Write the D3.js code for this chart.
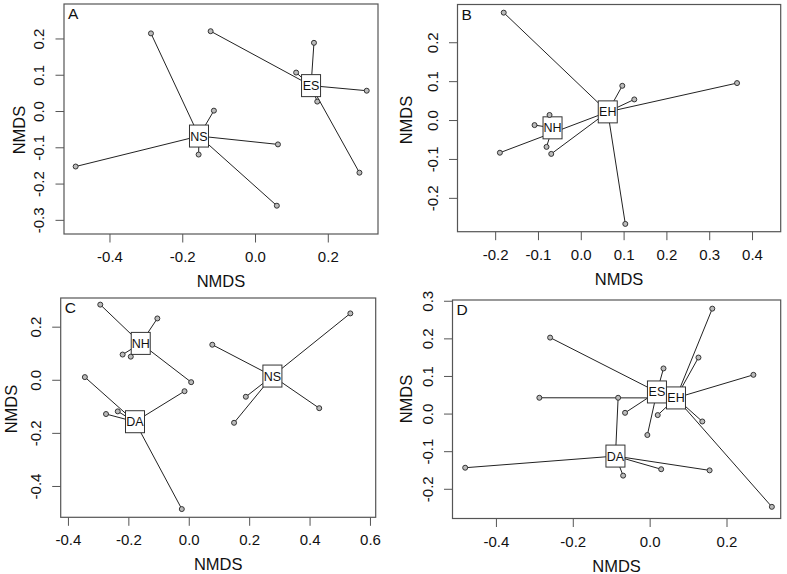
<!DOCTYPE html>
<html>
<head>
<meta charset="utf-8">
<script src="https://cdn.jsdelivr.net/npm/d3@7"></script>
<style>
  body { margin: 0; background: #fff; }
  svg text { font-family: "Liberation Sans", Arial, sans-serif; fill: #111; }
</style>
</head>
<body>
<svg id="chart" width="787" height="574"></svg>
<script>
// ---- data (NMDS scores) ----
// each point: [group, NMDS1, NMDS2]
const pointsA = [
  ["NS", -0.286, 0.214], ["NS", -0.113, 0.001], ["NS", 0.063, -0.092],
  ["NS", -0.155, -0.120], ["NS", 0.060, -0.261], ["NS", -0.493, -0.153],
  ["ES", -0.122, 0.220], ["ES", 0.162, 0.188], ["ES", 0.113, 0.106],
  ["ES", 0.307, 0.056], ["ES", 0.171, 0.026], ["ES", 0.287, -0.170]
];
const centroidsA = [["NS", -0.154, -0.069], ["ES", 0.154, 0.070]];

const pointsB = [
  ["EH", -0.180, 0.276], ["EH", 0.097, 0.088], ["EH", 0.125, 0.053],
  ["EH", 0.365, 0.095], ["EH", 0.104, -0.267], ["EH", -0.069, -0.087],
  ["EH", -0.189, -0.084],
  ["NH", -0.073, 0.013], ["NH", -0.108, -0.013], ["NH", -0.080, -0.069]
];
const centroidsB = [["EH", 0.063, 0.021], ["NH", -0.066, -0.020]];

const pointsC = [
  ["NH", -0.293, 0.283], ["NH", -0.104, 0.231], ["NH", -0.219, 0.095],
  ["NH", -0.192, 0.087], ["NH", 0.008, -0.009],
  ["DA", -0.344, 0.010], ["DA", -0.014, -0.043], ["DA", -0.274, -0.129],
  ["DA", -0.235, -0.119], ["DA", -0.023, -0.487],
  ["NS", 0.078, 0.132], ["NS", 0.535, 0.250], ["NS", 0.189, -0.064],
  ["NS", 0.150, -0.162], ["NS", 0.432, -0.107]
];
const centroidsC = [["NH", -0.159, 0.137], ["DA", -0.178, -0.158], ["NS", 0.277, 0.014]];

const pointsD = [
  ["ES", -0.259, 0.202], ["ES", 0.036, 0.120], ["ES", -0.064, 0.002], ["ES", -0.006, -0.057],
  ["EH", -0.287, 0.042], ["EH", 0.163, 0.279], ["EH", 0.127, 0.149], ["EH", 0.270, 0.103],
  ["EH", 0.137, -0.021], ["EH", 0.318, -0.248], ["EH", 0.021, -0.004],
  ["DA", -0.082, 0.042], ["DA", -0.480, -0.144], ["DA", -0.069, -0.165],
  ["DA", 0.030, -0.148], ["DA", 0.156, -0.151]
];
const centroidsD = [["ES", 0.019, 0.0575], ["EH", 0.0685, 0.0416], ["DA", -0.089, -0.113]];

// axis limits and ticks
const xDomainA = [-0.525, 0.338], yDomainA = [-0.339, 0.295];
const xDomainB = [-0.288, 0.467], yDomainB = [-0.287, 0.297];
const xDomainC = [-0.424, 0.619], yDomainC = [-0.518, 0.308];
const xDomainD = [-0.513, 0.341], yDomainD = [-0.279, 0.302];

const xTicksA = [-0.4, -0.2, 0, 0.2], yTicksA = [-0.3, -0.2, -0.1, 0, 0.1, 0.2];
const xTicksB = [-0.2, -0.1, 0, 0.1, 0.2, 0.3, 0.4], yTicksB = [-0.2, -0.1, 0, 0.1, 0.2];
const xTicksC = [-0.4, -0.2, 0, 0.2, 0.4, 0.6], yTicksC = [-0.4, -0.2, 0, 0.2];
const xTicksD = [-0.4, -0.2, 0, 0.2], yTicksD = [-0.2, -0.1, 0, 0.1, 0.2, 0.3];

const panelLetters = ["A", "B", "C", "D"];

// ---- layout ----
const panels = [
  { letter: panelLetters[0], pts: pointsA, cen: centroidsA, xd: xDomainA, yd: yDomainA, xt: xTicksA, yt: yTicksA,
    box: { l: 64, r: 378, t: 4, b: 234 }, ylabX: 19, ylabY: 130 },
  { letter: panelLetters[1], pts: pointsB, cen: centroidsB, xd: xDomainB, yd: yDomainB, xt: xTicksB, yt: yTicksB,
    box: { l: 457.5, r: 780.7, t: 4.5, b: 231.7 }, ylabX: 406, ylabY: 120 },
  { letter: panelLetters[2], pts: pointsC, cen: centroidsC, xd: xDomainC, yd: yDomainC, xt: xTicksC, yt: yTicksC,
    box: { l: 60.7, r: 375.7, t: 298, b: 517.3 }, ylabX: 11, ylabY: 409 },
  { letter: panelLetters[3], pts: pointsD, cen: centroidsD, xd: xDomainD, yd: yDomainD, xt: xTicksD, yt: yTicksD,
    box: { l: 452.5, r: 780.7, t: 300, b: 518.5 }, ylabX: 406, ylabY: 399 }
];

const svg = d3.select("#chart");
const fmt = v => v.toFixed(1);
const ink = "#222", frame = "#555";

panels.forEach(p => {
  const x = d3.scaleLinear().domain(p.xd).range([p.box.l, p.box.r]);
  const y = d3.scaleLinear().domain(p.yd).range([p.box.b, p.box.t]);
  const g = svg.append("g");

  // x axis
  const xa = g.append("g")
    .attr("transform", `translate(0,${p.box.b})`)
    .call(d3.axisBottom(x).tickValues(p.xt).tickFormat(fmt).tickSize(8.5).tickPadding(9));
  xa.select(".domain").remove();
  xa.selectAll("line").attr("stroke", frame);
  xa.selectAll("text").attr("font-size", 15).attr("fill", "#111");

  // y axis (labels parallel to axis, as in R)
  const ya = g.append("g")
    .attr("transform", `translate(${p.box.l},0)`)
    .call(d3.axisLeft(y).tickValues(p.yt).tickFormat(fmt).tickSize(8.5));
  ya.select(".domain").remove();
  ya.selectAll("line").attr("stroke", frame);
  ya.selectAll("text")
    .attr("font-size", 15).attr("fill", "#111")
    .attr("x", null).attr("dy", null)
    .attr("text-anchor", "middle")
    .attr("transform", "translate(-20,0) rotate(-90)");

  // frame
  g.append("rect")
    .attr("x", p.box.l).attr("y", p.box.t)
    .attr("width", p.box.r - p.box.l).attr("height", p.box.b - p.box.t)
    .attr("fill", "none").attr("stroke", frame).attr("stroke-width", 1.2);

  // axis titles
  g.append("text")
    .attr("x", (p.box.l + p.box.r) / 2).attr("y", p.box.b + 53)
    .attr("text-anchor", "middle").attr("font-size", 16.5)
    .text("NMDS");
  g.append("text")
    .attr("transform", `translate(${p.ylabX + 6},${p.ylabY}) rotate(-90)`)
    .attr("text-anchor", "middle").attr("font-size", 16.5)
    .text("NMDS");

  // panel letter
  g.append("text")
    .attr("x", p.box.l + 4).attr("y", p.box.t + 15)
    .attr("font-size", 15.5)
    .text(p.letter);

  const cmap = new Map(p.cen.map(c => [c[0], c]));

  // spider lines
  g.selectAll(".spider")
    .data(p.pts)
    .join("line")
    .attr("x1", d => x(cmap.get(d[0])[1]))
    .attr("y1", d => y(cmap.get(d[0])[2]))
    .attr("x2", d => x(d[1]))
    .attr("y2", d => y(d[2]))
    .attr("stroke", ink).attr("stroke-width", 1);

  // centroid labels in boxes
  const lab = g.selectAll(".cen")
    .data(p.cen)
    .join("g")
    .attr("transform", d => `translate(${x(d[1])},${y(d[2])})`);
  lab.append("rect")
    .attr("x", -9.5).attr("y", -11).attr("width", 19).attr("height", 22)
    .attr("fill", "#fff").attr("stroke", "#333").attr("stroke-width", 1);
  lab.append("text")
    .attr("text-anchor", "middle").attr("dy", "0.36em")
    .attr("font-size", 12.5)
    .text(d => d[0]);

  // sample points
  g.selectAll(".pt")
    .data(p.pts)
    .join("circle")
    .attr("cx", d => x(d[1]))
    .attr("cy", d => y(d[2]))
    .attr("r", 2.5)
    .attr("fill", "#bbb").attr("stroke", "#333").attr("stroke-width", 1);
});
</script>
</body>
</html>
